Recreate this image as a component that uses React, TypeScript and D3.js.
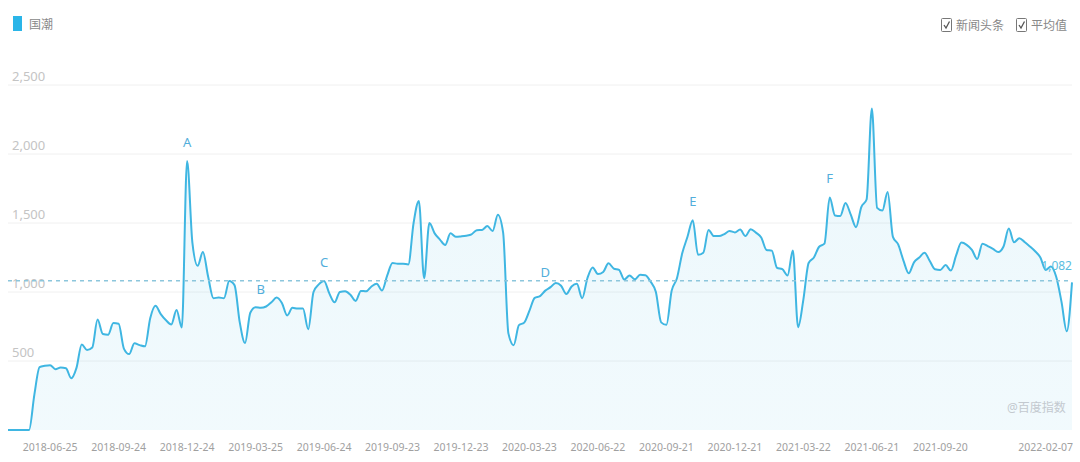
import React from "react";
import * as d3 from "d3";

// ---- data ----
const startDate = "2018-04-30"; // first weekly point
const seriesName = "国潮";
const values: number[] = [
  0, 0, 0, 0, 0, 255, 455, 465, 470, 440,
  452, 447, 375, 450, 620, 580, 598, 800, 695, 690,
  775, 770, 590, 550, 628, 615, 606, 810, 900, 840,
  795, 765, 870, 742, 1950, 1360, 1190, 1290, 1110, 955,
  960, 955, 1080, 1050, 780, 630, 850, 890, 885, 895,
  925, 960, 920, 830, 885, 880, 880, 730, 1000, 1055,
  1080, 990, 925, 1000, 1005, 980, 935, 1008, 1005, 1040,
  1060, 1010, 1120, 1210, 1205, 1205, 1200, 1500, 1660, 1100,
  1500, 1425, 1380, 1340, 1425, 1400, 1403, 1408, 1418, 1448,
  1450, 1478, 1442, 1560, 1430, 700, 615, 760, 778, 865,
  958, 970, 1010, 1035, 1065, 1045, 985, 1040, 1060, 955,
  1100, 1178, 1130, 1145, 1208, 1170, 1160, 1090, 1120, 1092,
  1125, 1122, 1075, 1000, 780, 762, 1010, 1100, 1280, 1400,
  1520, 1270, 1285, 1450, 1405, 1405, 1420, 1442, 1432, 1452,
  1405, 1455, 1430, 1395, 1305, 1300, 1175, 1165, 1120, 1300,
  745, 945, 1210, 1250, 1328, 1350, 1685, 1555, 1550, 1645,
  1560, 1470, 1615, 1670, 2330, 1610, 1590, 1725, 1400, 1345,
  1228, 1135, 1215, 1250, 1285, 1225, 1165, 1160, 1195, 1155,
  1265, 1358, 1342, 1305, 1240, 1350, 1332, 1312, 1290, 1330,
  1460, 1360, 1390, 1362, 1330, 1295, 1250, 1160, 1185, 1110,
  930, 715, 1070,
];
const averageValue = 1082;
const yTicks = [500, 1000, 1500, 2000, 2500];
const xTickLabels = [
  "2018-06-25", "2018-09-24", "2018-12-24", "2019-03-25", "2019-06-24",
  "2019-09-23", "2019-12-23", "2020-03-23", "2020-06-22", "2020-09-21",
  "2020-12-21", "2021-03-22", "2021-06-21", "2021-09-20", "2022-02-07",
];
const annotationLetters = ["A", "B", "C", "D", "E", "F"];
const annotationIndex = [34, 48, 60, 102, 130, 156];
const legendRight = ["新闻头条", "平均值"];

const W = 1080;
const H = 462;

export default function App() {
  const parse = d3.utcParse("%Y-%m-%d");
  const start = parse(startDate) as Date;
  const dates = values.map((_, i) => d3.utcMonday.offset(start, i));
  const x = d3
    .scaleUtc()
    .domain([dates[0], dates[dates.length - 1]])
    .range([8, 1072]);
  const y = d3.scaleLinear().domain([0, 2500]).range([430, 85]);

  const pts = values.map((v, i) => [x(dates[i]), y(v)] as [number, number]);
  const line = d3
    .line<[number, number]>()
    .x((d) => d[0])
    .y((d) => d[1])
    .curve(d3.curveMonotoneX);
  const area = d3
    .area<[number, number]>()
    .x((d) => d[0])
    .y0(y(0))
    .y1((d) => d[1])
    .curve(d3.curveMonotoneX);

  const fmt = d3.format(",");
  const font = "'Noto Sans', 'Noto Sans CJK SC', sans-serif";
  const avgY = y(averageValue);

  return (
    <svg
      width={W}
      height={H}
      style={{ position: "fixed", left: 0, top: 0, background: "#fff" }}
      fontFamily={font}
    >
      <defs>
        <linearGradient id="areaGrad" x1="0" y1="0" x2="0" y2="1">
          <stop offset="0%" stopColor="#3fb6e2" stopOpacity={0.1} />
          <stop offset="100%" stopColor="#3fb6e2" stopOpacity={0.07} />
        </linearGradient>
      </defs>
      <rect x={0} y={0} width={W} height={H} fill="#fff" />

      {/* grid */}
      {yTicks.map((t) => (
        <line
          key={t}
          x1={8}
          x2={1072}
          y1={y(t)}
          y2={y(t)}
          stroke="#f0f0f0"
          strokeWidth={1}
        />
      ))}

      {/* area + line */}
      <path d={area(pts) || ""} fill="url(#areaGrad)" />
      <path
        d={line(pts) || ""}
        fill="none"
        stroke="#3fb6e2"
        strokeWidth={2}
        strokeLinejoin="round"
      />

      {/* y labels */}
      {yTicks.map((t) => (
        <text
          key={t}
          x={12}
          y={y(t) - 4.5}
          fontSize={13}
          fill="#c4c4c4"
        >
          {fmt(t)}
        </text>
      ))}

      {/* average line */}
      <line
        x1={8}
        x2={1072}
        y1={avgY}
        y2={avgY}
        stroke="#8cc6dc"
        strokeWidth={1.5}
        strokeDasharray="4 4"
      />
      <text
        x={1072}
        y={avgY - 11}
        textAnchor="end"
        fontSize={12}
        fill="#5bbde0"
      >
        {fmt(averageValue)}
      </text>

      {/* annotations */}
      {annotationLetters.map((l, k) => {
        const i = annotationIndex[k];
        return (
          <text
            key={l}
            x={x(dates[i])}
            y={y(values[i]) - 14}
            textAnchor="middle"
            fontSize={13}
            fill="#52aedb"
          >
            {l}
          </text>
        );
      })}

      {/* x labels */}
      {xTickLabels.map((l) => (
        <text
          key={l}
          x={x(parse(l) as Date)}
          y={451}
          textAnchor="middle"
          fontSize={10.5}
          fill="#a0a0a0"
        >
          {l}
        </text>
      ))}

      {/* legend left */}
      <rect x={13} y={16} width={9} height={15} fill="#2ab5e8" />
      <text x={29} y={29} fontSize={12} fill="#888">
        {seriesName}
      </text>

      {/* legend right */}
      {legendRight.map((l, k) => {
        const bx = k === 0 ? 941 : 1016;
        return (
          <g key={l}>
            <rect
              x={bx + 0.5}
              y={18.5}
              width={10}
              height={13}
              fill="#fff"
              stroke="#777"
              strokeWidth={1}
              rx={1}
            />
            <path
              d={`M${bx + 3},${25} L${bx + 5},${28} L${bx + 8.5},${21.5}`}
              fill="none"
              stroke="#555"
              strokeWidth={1.3}
            />
            <text x={bx + 15} y={30} fontSize={12} fill="#888">
              {l}
            </text>
          </g>
        );
      })}

      {/* watermark */}
      <text x={1007} y={412} fontSize={12} fill="#c3c9cf">
        @百度指数
      </text>
    </svg>
  );
}
